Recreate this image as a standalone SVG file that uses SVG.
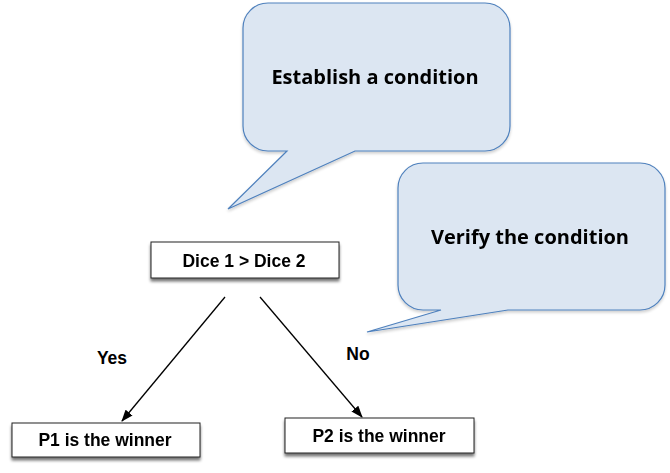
<svg xmlns="http://www.w3.org/2000/svg" width="670" height="473" viewBox="0 0 670 473">
<defs>
<style>
.callout{fill:#dce6f2;stroke:#4f81bd;stroke-width:1.2;stroke-linejoin:miter}
.ctext{font-family:"Open Sans","Noto Sans",sans-serif;font-weight:bold;font-size:20px;fill:#000;text-anchor:middle}
.box{fill:#fff;stroke:#222;stroke-width:1}
.btext{font-family:"Liberation Sans",Arial,sans-serif;font-weight:bold;font-size:17.5px;fill:#000;text-anchor:middle}
.edge{stroke:#000;stroke-width:1.3;fill:none}
</style>
<filter id="sh" x="-10%" y="-30%" width="120%" height="180%">
<feGaussianBlur in="SourceAlpha" stdDeviation="1.8"/>
<feOffset dx="0" dy="3" result="b"/>
<feComponentTransfer><feFuncA type="linear" slope="0.55"/></feComponentTransfer>
<feMerge><feMergeNode/><feMergeNode in="SourceGraphic"/></feMerge>
</filter>
<filter id="sh2" x="-10%" y="-10%" width="120%" height="130%">
<feGaussianBlur in="SourceAlpha" stdDeviation="1.5"/>
<feOffset dx="0" dy="2" result="b"/>
<feComponentTransfer><feFuncA type="linear" slope="0.2"/></feComponentTransfer>
<feMerge><feMergeNode/><feMergeNode in="SourceGraphic"/></feMerge>
</filter>
<marker id="arr" viewBox="0 0 12 10" refX="11" refY="5" markerWidth="12" markerHeight="10" markerUnits="userSpaceOnUse" orient="auto">
<path d="M0,0.5 L12,5 L0,9.5 Z" fill="#000"/>
</marker>
</defs>
<rect width="670" height="473" fill="#fff"/>

<g id="callout-establish" filter="url(#sh2)">
<path class="callout" d="M268,3 H485 A25,25 0 0 1 510,28 V126 A25,25 0 0 1 485,151 H355 L228,209 L287,151 H268 A25,25 0 0 1 243,126 V28 A25,25 0 0 1 268,3 Z"/>
<text class="ctext" x="375" y="84">Establish a condition</text>
</g>

<g id="callout-verify" filter="url(#sh2)">
<path class="callout" d="M423,163 H640 A25,25 0 0 1 665,188 V285 A25,25 0 0 1 640,310 H508 L367,332 L441,310 H423 A25,25 0 0 1 398,285 V188 A25,25 0 0 1 423,163 Z"/>
<text class="ctext" x="530" y="244">Verify the condition</text>
</g>

<g id="connectors">
<line class="edge" x1="225" y1="297" x2="122" y2="421" marker-end="url(#arr)"/>
<line class="edge" x1="260" y1="297" x2="362" y2="417" marker-end="url(#arr)"/>
<text class="btext" x="112" y="364">Yes</text>
<text class="btext" x="358" y="360">No</text>
</g>

<g id="dice" filter="url(#sh)">
<rect class="box" x="151" y="242" width="188" height="36"/>
<text class="btext" x="244" y="267">Dice 1 &gt; Dice 2</text>
</g>

<g id="p1" filter="url(#sh)">
<rect class="box" x="12" y="423" width="188" height="34"/>
<text class="btext" x="105" y="446">P1 is the winner</text>
</g>

<g id="p2" filter="url(#sh)">
<rect class="box" x="285" y="418" width="189" height="35"/>
<text class="btext" x="379" y="442">P2 is the winner</text>
</g>
</svg>
